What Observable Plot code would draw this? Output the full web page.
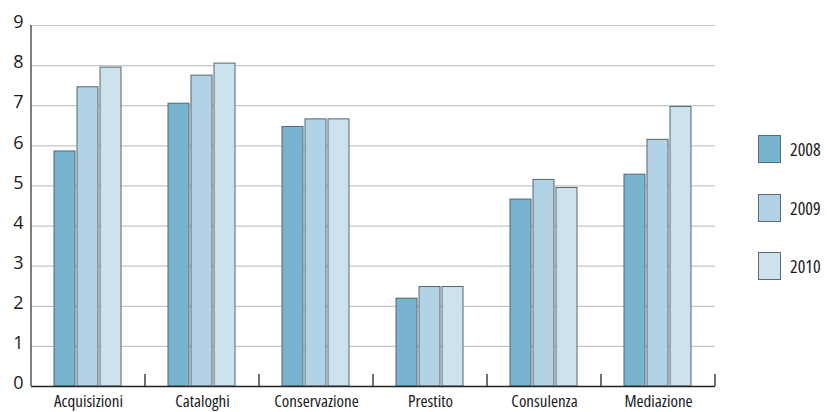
<!DOCTYPE html>
<html><head><meta charset="utf-8">
<script src="https://cdn.jsdelivr.net/npm/d3@7"></script>
<script src="https://cdn.jsdelivr.net/npm/@observablehq/plot@0.6"></script>
<style>
body{margin:0;background:#fff;}
#wrap{position:relative;width:828px;height:412px;font-family:"Open Sans",sans-serif;}
#wrap svg text{font-stretch:87%;}
#wrap svg .yax text{font-stretch:88%;}
#legend{position:absolute;left:758px;top:135px;}
.item{position:absolute;left:0;display:flex;align-items:center;white-space:nowrap;}
.sw{width:21px;height:26px;border:1px solid #5c6a70;}
.lab{margin-left:9px;font-size:18px;color:#1a1a1a;font-stretch:85%;}
</style></head><body><div id="wrap"></div>
<script>
const categories = ["Acquisizioni","Cataloghi","Conservazione","Prestito","Consulenza","Mediazione"];
const years = ["2008","2009","2010"];
const v2008 = [5.86, 7.05, 6.47, 2.19, 4.66, 5.28];
const v2009 = [7.46, 7.75, 6.66, 2.48, 5.15, 6.15];
const v2010 = [7.95, 8.05, 6.66, 2.48, 4.95, 6.97];
const yTicks = [0,1,2,3,4,5,6,7,8,9];
const colors = ["#78b3d0","#b2d3e5","#cce3ee"];

const series = [v2008, v2009, v2010];
const data = categories.flatMap((c, i) => years.map((yr, j) => ({cat: c, year: yr, value: series[j][i]})));

const plot = Plot.plot({
  width: 828, height: 412,
  marginLeft: 29, marginRight: 112, marginTop: 25, marginBottom: 26,
  style: {fontFamily: '"Open Sans",sans-serif', background: "transparent", color: "#1a1a1a"},
  fx: {domain: categories, padding: 0, label: null},
  x: {domain: years, paddingInner: 0.08, paddingOuter: 1, axis: null},
  y: {domain: [0, 9], label: null},
  color: {domain: years, range: colors},
  marks: [
    Plot.ruleY(yTicks.filter(t => t > 0), {stroke: "#c6c6c6", strokeWidth: 1.2}),
    Plot.barY(data, {fx: "cat", x: "year", y: "value", fill: "year", stroke: "#56656c", strokeWidth: 1}),
    Plot.ruleY([0], {stroke: "#222", strokeWidth: 1.3}),
    Plot.axisY({ticks: yTicks, tickSize: 0, tickPadding: 8, fontSize: 18, dy: -3, label: null, className: "yax"}),
    Plot.axisFx({anchor: "bottom", tickSize: 0, tickPadding: 8, fontSize: 17, label: null})
  ]
});

const wrap = document.getElementById("wrap");
wrap.appendChild(plot);

const fx = plot.scale("fx"), y = plot.scale("y");
const svg = d3.select(plot);
const g = svg.append("g");
const y0 = y.apply(0), y9 = y.apply(9);
const left = fx.apply(categories[0]);
g.append("line").attr("x1", left).attr("x2", left).attr("y1", y9).attr("y2", y0)
  .attr("stroke", "#555").attr("stroke-width", 1.5);
categories.forEach(c => {
  const xr = fx.apply(c) + fx.bandwidth;
  g.append("line").attr("x1", xr).attr("x2", xr).attr("y1", y0).attr("y2", y0 - 12)
    .attr("stroke", "#222").attr("stroke-width", 1.3);
});

const legend = document.createElement("div");
legend.id = "legend";
const offsets = [0, 59, 117];
years.forEach((yr, i) => {
  const it = document.createElement("div");
  it.className = "item";
  it.style.top = offsets[i] + "px";
  it.innerHTML = `<div class="sw" style="background:${colors[i]}"></div><span class="lab">${yr}</span>`;
  legend.appendChild(it);
});
wrap.appendChild(legend);
</script></body></html>
